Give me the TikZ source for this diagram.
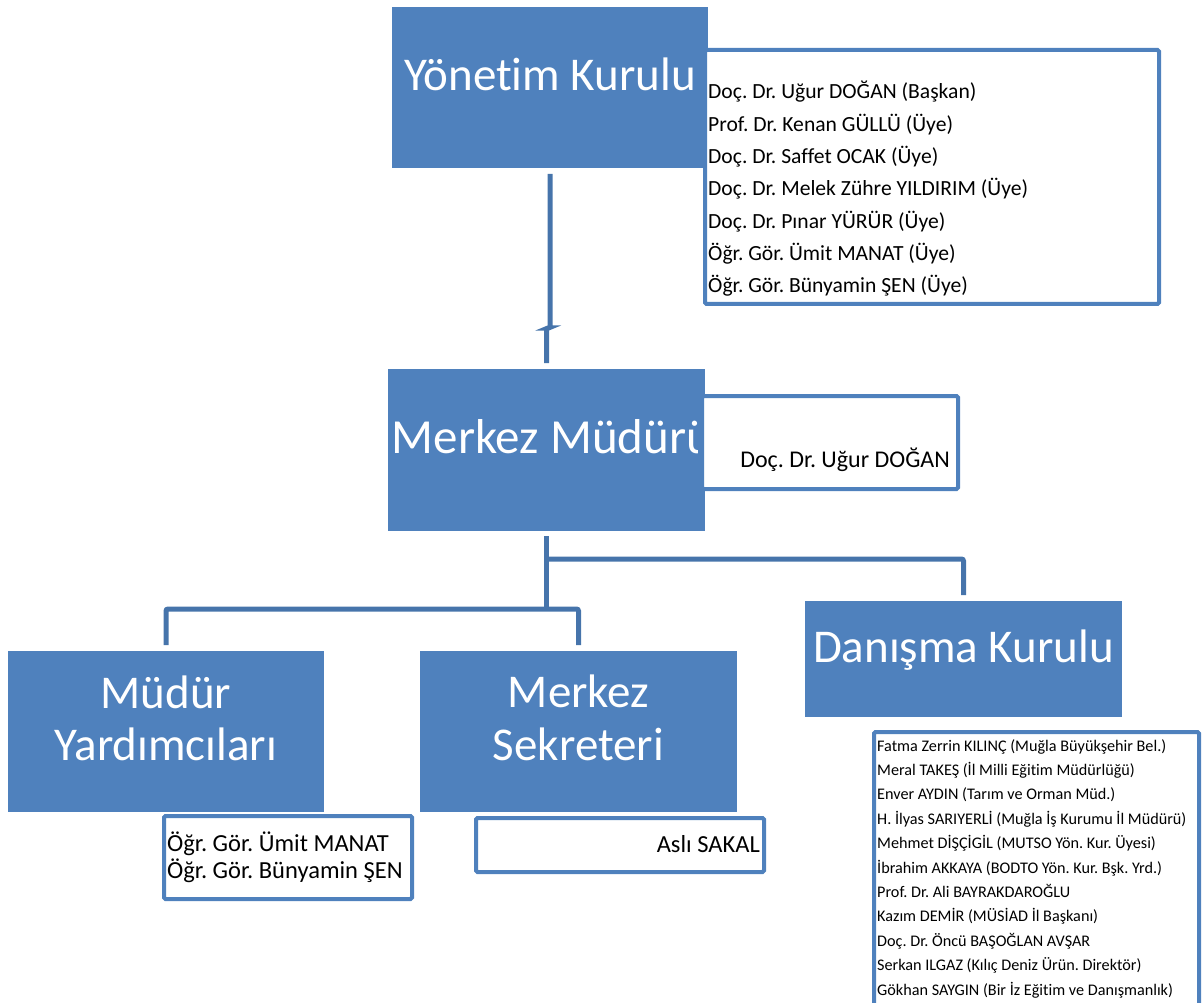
\documentclass[tikz,border=0pt]{standalone}
\usepackage{fontspec}
\setmainfont[Ligatures=NoCommon]{Carlito}
\frenchspacing
\definecolor{boxblue}{HTML}{4F81BD}
\definecolor{linkblue}{HTML}{4674AB}
\begin{document}
\begin{tikzpicture}[x=1pt,y=-1pt,
  bluebox/.style={fill=boxblue, draw=none, inner sep=0pt, outer sep=0pt},
  namebox/.style={draw=boxblue, line width=4pt, fill=white, rounded corners=1.5pt, inner sep=0pt, outer sep=0pt},
  title/.style={text=white, font=\fontsize{47}{52}\selectfont, inner sep=0pt, anchor=base},
  conn/.style={draw=linkblue, line width=5pt, rounded corners=2pt},
  ylist/.style={font=\fontsize{21.6}{26}\selectfont, inner sep=0pt, anchor=base west},
  dlist/.style={font=\fontsize{16.2}{19}\selectfont, inner sep=0pt, anchor=base west},
  mlist/.style={font=\fontsize{24.5}{28}\selectfont, inner sep=0pt},
]
\useasboundingbox (0,0) rectangle (1203,1003);

% blue boxes
\node[bluebox, minimum width=316pt, minimum height=161pt] (yk) at (550,87.5) {};
\node[bluebox, minimum width=317pt, minimum height=162pt] (mm) at (546.5,450) {};
\node[bluebox, minimum width=316pt, minimum height=161pt] (my) at (166,731.5) {};
\node[bluebox, minimum width=317pt, minimum height=161pt] (ms) at (578.5,731.5) {};
\node[bluebox, minimum width=317pt, minimum height=116pt] (dk) at (963.5,659) {};

% titles
\node[title] (ykt) at (550,91) {Yönetim Kurulu};
\begin{scope}
\clip (388,369) rectangle (697,531);
\node[title, anchor=base west, font=\fontsize{49}{54}\selectfont] (mmt) at (391.5,453) {Merkez Müdürü};
\end{scope}
\node[title] (myt1) at (166,708) {Müdür};
\node[title] (myt2) at (166,760) {Yardımcıları};
\node[title] (mst1) at (578.5,707) {Merkez};
\node[title] (mst2) at (578.5,760) {Sekreteri};
\node[title] (dkt) at (963.5,662) {Danışma Kurulu};

% connectors
\coordinate (jog) at (0,328);
\coordinate (h1) at (0,559);
\coordinate (h2) at (0,609);
\draw[conn, shorten <=6pt, shorten >=6pt] (yk.south) -- (yk.south |- jog) -- (mm.north |- jog) -- (mm.north);
\draw[conn, shorten <=5pt] (mm.south) -- (mm.south |- h2);
\draw[conn, shorten >=6pt] (mm.south |- h1) -| (dk.north);
\draw[conn, shorten <=6pt, shorten >=6pt] (my.north) |- (h2 -| ms.north) -- (ms.north);

% white name boxes
\node[namebox, minimum width=454pt, minimum height=254pt] (ykm) at (932,177) {};
\foreach \t [count=\i from 0] in {Doç. Dr. Uğur DOĞAN (Başkan),Prof. Dr. Kenan GÜLLÜ (Üye),Doç. Dr. Saffet OCAK (Üye),Doç. Dr. Melek Zühre YILDIRIM (Üye),Doç. Dr. Pınar YÜRÜR (Üye),Öğr. Gör. Ümit MANAT (Üye),Öğr. Gör. Bünyamin ŞEN (Üye)}
  \node[ylist] (yl\i) at (708,99+32.3*\i) {\t};

\node[namebox, minimum width=256pt, minimum height=93pt] (mmd) at (830,442.5) {};
\node[mlist, font=\fontsize{24}{28}\selectfont, anchor=base east] (mmdt) at (950,467) {Doç. Dr. Uğur DOĞAN};

\node[namebox, minimum width=248pt, minimum height=83pt] (myd) at (288,857.5) {};
\node[mlist, anchor=base west] (myd1) at (167,851) {Öğr. Gör. Ümit MANAT};
\node[mlist, anchor=base west] (myd2) at (167,878) {Öğr. Gör. Bünyamin ŞEN};

\node[namebox, minimum width=288pt, minimum height=54pt] (msd) at (620,845) {};
\node[mlist, anchor=base east] (msdt) at (760,852) {Aslı SAKAL};

\begin{scope}
\clip (0,0) rectangle (1203,1003);
\node[namebox, minimum width=325pt, minimum height=278pt] (dkm) at (1036.5,871) {};
\end{scope}
\foreach \t [count=\i from 0] in {Fatma Zerrin KILINÇ (Muğla Büyükşehir Bel.),Meral TAKEŞ (İl Milli Eğitim Müdürlüğü),Enver AYDIN (Tarım ve Orman Müd.),H. İlyas SARIYERLİ (Muğla İş Kurumu İl Müdürü),Mehmet DİŞÇİGİL (MUTSO Yön. Kur. Üyesi),İbrahim AKKAYA (BODTO Yön. Kur. Bşk. Yrd.),Prof. Dr. Ali BAYRAKDAROĞLU,Kazım DEMİR (MÜSİAD İl Başkanı),Doç. Dr. Öncü BAŞOĞLAN AVŞAR,Serkan ILGAZ (Kılıç Deniz Ürün. Direktör),Gökhan SAYGIN (Bir İz Eğitim ve Danışmanlık)}
  \node[dlist] (dl\i) at (877,751+24.4*\i) {\t};
\end{tikzpicture}
\end{document}
